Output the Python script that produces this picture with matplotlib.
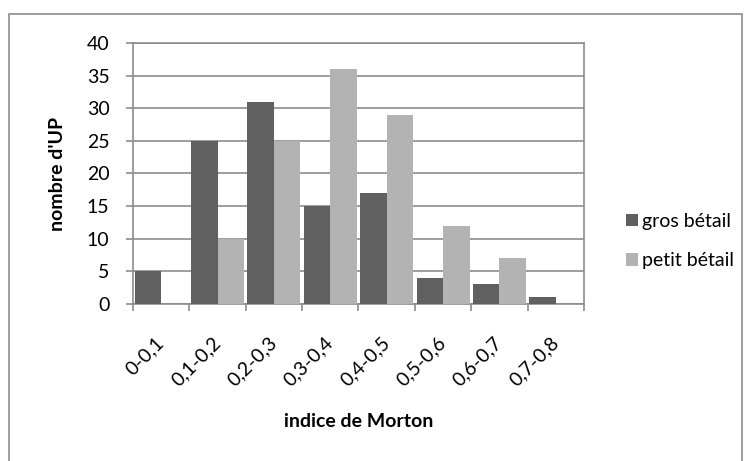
import numpy as np
import matplotlib
matplotlib.use('Agg')
import matplotlib.pyplot as plt
from matplotlib.patches import Rectangle
from matplotlib.transforms import ScaledTranslation

plt.rcParams['font.family'] = ['Lato', 'DejaVu Sans']

# Distribution des UP par classe d'indice de Morton
classes = ['0-0,1', '0,1-0,2', '0,2-0,3', '0,3-0,4',
           '0,4-0,5', '0,5-0,6', '0,6-0,7', '0,7-0,8']
gros_betail = [5, 25, 31, 15, 17, 4, 3, 1]
petit_betail = [0, 10, 25, 36, 29, 12, 7, 0]
y_ticks = [0, 5, 10, 15, 20, 25, 30, 35, 40]

DARK = '#606060'
LIGHT = '#b3b3b3'
GRID = '#8c8c8c'
W, H = 751, 461

fig = plt.figure(figsize=(W / 100, H / 100), dpi=100)
ax = fig.add_axes([133 / W, 1 - 304 / H, (584 - 133) / W, (304 - 43) / H])

# chart frame around everything
fig.patches.append(Rectangle((9 / W, -0.1), (742 - 9) / W, 1.1 - 14 / H,
                             transform=fig.transFigure, fill=False,
                             edgecolor=GRID, lw=1.2))

x = np.arange(len(classes))
w = 0.47
ax.bar(x - w / 2, gros_betail, w, color=DARK, label='gros bétail', zorder=3)
ax.bar(x + w / 2, petit_betail, w, color=LIGHT, label='petit bétail', zorder=3)

ax.set_xlim(-0.5, len(classes) - 0.5)
ax.set_ylim(0, 40)
ax.set_yticks(y_ticks)
ax.yaxis.grid(True, color=GRID, lw=1.2, zorder=0)

# tick marks on category boundaries, labels centred under each group
ax.set_xticks(np.arange(len(classes) + 1) - 0.5)
ax.set_xticklabels([])
ax.set_xticks(x, minor=True)
ax.set_xticklabels(classes, minor=True, rotation=45, ha='right', va='center',
                   rotation_mode='anchor', fontsize=14)
shift = ScaledTranslation(10 / 100, 0, fig.dpi_scale_trans)
for lbl in ax.get_xticklabels(minor=True):
    lbl.set_transform(lbl.get_transform() + shift)
ax.tick_params(axis='x', which='minor', length=0, pad=26)
ax.tick_params(axis='x', which='major', length=5, color=GRID, width=1.2)
ax.tick_params(axis='y', length=5, color=GRID, width=1.2, pad=12, labelsize=14)

for side in ['left', 'bottom', 'right', 'top']:
    ax.spines[side].set_color(GRID)
    ax.spines[side].set_linewidth(1.2)

ax.set_ylabel("nombre d'UP", fontsize=14, fontweight='bold', va='center')
ax.yaxis.set_label_coords((57 - 133) / 451, 0.5)
ax.set_xlabel('indice de Morton', fontsize=14, fontweight='bold', va='top')
ax.xaxis.set_label_coords(0.5, (304 - 413) / 261)

ax.legend(loc='center left', bbox_to_anchor=(616 / W, 1 - 241 / H),
          bbox_transform=fig.transFigure, frameon=False, borderpad=0,
          fontsize=14, handlelength=0.65, handleheight=0.6, handletextpad=0.2,
          labelspacing=1.15)

fig.savefig('out.png', dpi=100)
